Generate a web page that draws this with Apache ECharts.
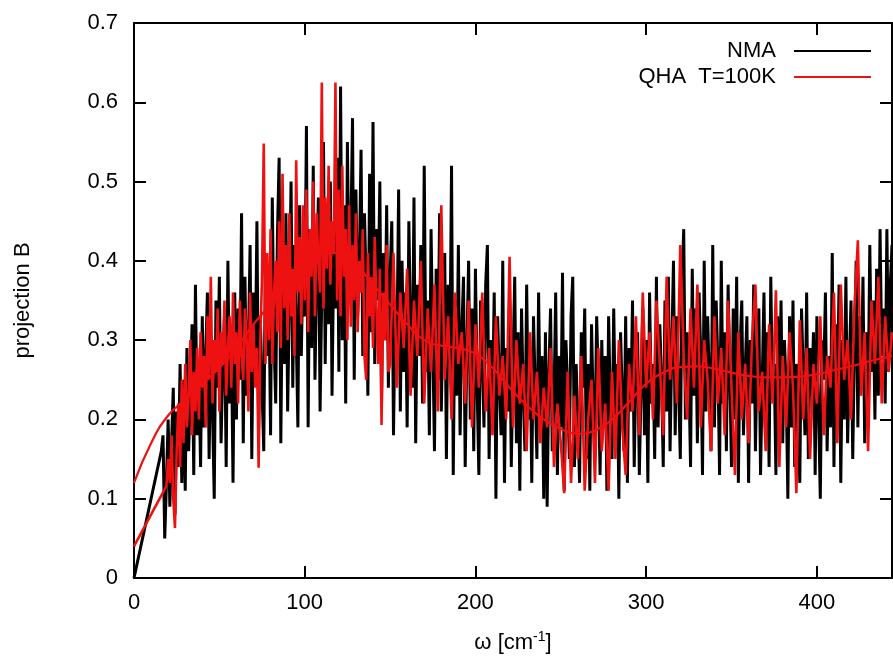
<!DOCTYPE html>
<html>
<head>
<meta charset="utf-8">
<script src="https://cdn.jsdelivr.net/npm/echarts@6/dist/echarts.min.js"></script>
<style>
html,body{margin:0;padding:0;background:#fff;}
#chart{width:893px;height:661px;}
</style>
</head>
<body>
<div id="chart"></div>
<script>
// x steps (cm^-1) for the noisy series
const nmaStep = 1;            // NMA: x = 0, 1, 2, ... 444
const qhaDenseStep = 1;       // QHA part A: x = 0, 1, ... 149
const qhaSparseStart = 150;   // QHA part B: x = 150, 152, ... 444
const qhaSparseStep = 2;

// NMA (black)
const nmaValues = [
  0.00,0.01,0.02,0.03,0.04,0.05,0.06,0.07,0.08,0.09,0.10,0.11,0.12,0.13,0.14,0.15,0.16,0.18,0.05,0.12,
  0.20,0.09,0.17,0.24,0.08,0.21,0.14,0.27,0.12,0.25,0.11,0.29,0.16,0.23,0.32,0.13,0.37,0.18,0.26,0.14,
  0.33,0.19,0.28,0.36,0.15,0.30,0.21,0.10,0.35,0.24,0.38,0.17,0.27,0.33,0.14,0.40,0.22,0.31,0.12,0.36,
  0.20,0.34,0.25,0.46,0.17,0.38,0.23,0.29,0.42,0.15,0.36,0.26,0.45,0.19,0.33,0.24,0.16,0.41,0.28,0.37,
  0.18,0.48,0.30,0.22,0.43,0.53,0.17,0.39,0.27,0.46,0.21,0.35,0.50,0.24,0.42,0.31,0.19,0.47,0.28,0.40,
  0.33,0.57,0.19,0.44,0.29,0.52,0.25,0.38,0.48,0.21,0.36,0.55,0.27,0.45,0.32,0.50,0.23,0.41,0.34,0.53,
  0.26,0.62,0.30,0.47,0.22,0.55,0.36,0.43,0.58,0.25,0.49,0.33,0.40,0.54,0.28,0.46,0.37,0.23,0.51,0.31,
  0.575,0.27,0.44,0.35,0.50,0.22,0.41,0.30,0.47,0.24,0.38,0.45,0.18,0.34,0.29,0.49,0.21,0.40,0.26,0.36,
  0.19,0.45,0.31,0.24,0.48,0.17,0.37,0.28,0.42,0.22,0.52,0.26,0.35,0.18,0.44,0.30,0.16,0.39,0.25,0.46,
  0.21,0.33,0.41,0.15,0.37,0.27,0.52,0.13,0.35,0.23,0.42,0.18,0.31,0.38,0.14,0.29,0.40,0.20,0.34,0.16,
  0.39,0.24,0.13,0.35,0.28,0.19,0.37,0.42,0.15,0.30,0.22,0.36,0.10,0.33,0.25,0.18,0.40,0.12,0.29,0.21,
  0.35,0.14,0.27,0.38,0.17,0.31,0.11,0.34,0.23,0.16,0.37,0.20,0.29,0.12,0.33,0.24,0.15,0.36,0.19,0.28,
  0.10,0.31,0.09,0.26,0.34,0.16,0.22,0.36,0.13,0.28,0.19,0.385,0.11,0.30,0.24,0.15,0.33,0.38,0.14,0.27,
  0.20,0.12,0.31,0.24,0.34,0.15,0.27,0.11,0.32,0.21,0.17,0.33,0.25,0.13,0.30,0.19,0.28,0.11,0.33,0.22,
  0.15,0.34,0.20,0.27,0.10,0.31,0.23,0.16,0.33,0.12,0.29,0.21,0.35,0.14,0.26,0.31,0.13,0.24,0.34,0.18,
  0.30,0.12,0.36,0.22,0.27,0.15,0.38,0.19,0.32,0.25,0.14,0.35,0.21,0.38,0.16,0.29,0.40,0.18,0.33,0.24,
  0.15,0.37,0.44,0.20,0.31,0.26,0.14,0.39,0.23,0.34,0.17,0.36,0.28,0.13,0.40,0.21,0.33,0.25,0.16,0.42,
  0.19,0.35,0.27,0.13,0.40,0.22,0.31,0.16,0.37,0.25,0.14,0.34,0.20,0.38,0.12,0.29,0.35,0.18,0.26,0.33,
  0.12,0.30,0.22,0.37,0.16,0.28,0.34,0.13,0.25,0.36,0.19,0.31,0.14,0.38,0.23,0.27,0.13,0.33,0.20,0.35,
  0.17,0.30,0.24,0.10,0.33,0.19,0.35,0.14,0.27,0.22,0.12,0.34,0.26,0.18,0.36,0.15,0.29,0.23,0.31,0.13,
  0.33,0.21,0.10,0.30,0.25,0.36,0.16,0.28,0.19,0.41,0.14,0.32,0.24,0.37,0.12,0.30,0.20,0.38,0.17,0.27,
  0.35,0.15,0.29,0.40,0.19,0.33,0.24,0.38,0.17,0.31,0.22,0.42,0.26,0.35,0.20,0.39,0.23,0.44,0.28,0.34,
  0.22,0.44,0.26,0.37,0.42
];

// QHA T=100K (red, noisy), part A: x = 0 .. 149
const qhaValuesA = [
  0.040,0.044,0.048,0.052,0.056,0.060,0.064,0.068,0.072,0.076,
  0.080,0.084,0.088,0.092,0.096,0.100,0.104,0.108,0.112,0.116,
  0.15,0.12,0.18,0.10,0.063,0.16,0.22,0.14,0.25,0.17,
  0.27,0.19,0.23,0.30,0.18,0.26,0.21,0.29,0.20,0.31,
  0.24,0.28,0.19,0.33,0.25,0.38,0.22,0.30,0.26,0.34,
  0.21,0.31,0.27,0.35,0.23,0.29,0.33,0.24,0.36,0.27,
  0.31,0.22,0.35,0.28,0.25,0.34,0.30,0.21,0.36,0.26,
  0.32,0.24,0.29,0.139,0.30,0.38,0.548,0.27,0.41,0.30,
  0.44,0.27,0.36,0.40,0.31,0.45,0.29,0.51,0.34,0.42,
  0.30,0.46,0.33,0.39,0.28,0.527,0.36,0.43,0.32,0.47,
  0.35,0.49,0.31,0.44,0.38,0.50,0.33,0.46,0.40,0.36,
  0.625,0.34,0.48,0.39,0.52,0.37,0.45,0.41,0.625,0.35,
  0.49,0.33,0.52,0.38,0.44,0.30,0.47,0.317,0.42,0.35,
  0.46,0.31,0.40,0.36,0.44,0.28,0.25,0.41,0.33,0.38,
  0.29,0.43,0.34,0.27,0.39,0.193,0.36,0.30,0.42,0.26
];

// QHA T=100K (red, noisy), part B: x = 150, 152, ... 444
const qhaValuesB = [
  0.27, 0.41, 0.24, 0.36, 0.29,
  0.39, 0.23, 0.35, 0.28, 0.40, 0.22, 0.34, 0.26, 0.37, 0.21,
  0.47, 0.25, 0.33, 0.20, 0.36, 0.27, 0.31, 0.22, 0.35, 0.19,
  0.32, 0.24, 0.36, 0.21, 0.29, 0.18, 0.33, 0.23, 0.28, 0.20,
  0.405, 0.19, 0.30, 0.22, 0.27, 0.16, 0.31, 0.20, 0.26, 0.17,
  0.24, 0.19, 0.29, 0.14, 0.22, 0.17, 0.107, 0.26, 0.12, 0.23,
  0.15, 0.28, 0.11, 0.20, 0.25, 0.12, 0.29, 0.16, 0.22, 0.11,
  0.26, 0.15, 0.30, 0.19, 0.13, 0.27, 0.21, 0.33, 0.18, 0.36,
  0.24, 0.31, 0.20, 0.35, 0.27, 0.18, 0.38, 0.25, 0.33, 0.22,
  0.42, 0.28, 0.20, 0.34, 0.24, 0.37, 0.19, 0.30, 0.25, 0.16,
  0.33, 0.22, 0.29, 0.18, 0.35, 0.24, 0.13, 0.31, 0.20, 0.27,
  0.17, 0.30, 0.37, 0.21, 0.26, 0.16, 0.32, 0.22, 0.363, 0.14,
  0.28, 0.19, 0.31, 0.24, 0.107, 0.325, 0.20, 0.29, 0.15, 0.27,
  0.22, 0.33, 0.18, 0.28, 0.24, 0.36, 0.17, 0.37, 0.25, 0.30,
  0.20, 0.34, 0.426, 0.23, 0.31, 0.16, 0.35, 0.27, 0.38, 0.22,
  0.33, 0.26, 0.31
];

// QHA smooth curve (red)
const smoothX = [0,10,20,30,40,50,60,70,80,90,100,110,120,130,140,150,160,170,180,190,200,210,220,230,240,250,260,270,280,290,300,310,320,330,340,350,360,370,380,390,400,410,420,430,440,444];
const smoothY = [0.12,0.17,0.205,0.225,0.245,0.265,0.29,0.32,0.345,0.37,0.393,0.408,0.41,0.395,0.37,0.345,0.32,0.30,0.293,0.29,0.283,0.265,0.24,0.218,0.2,0.188,0.182,0.186,0.2,0.222,0.245,0.259,0.266,0.267,0.264,0.259,0.255,0.253,0.253,0.254,0.257,0.262,0.267,0.273,0.278,0.28];

const xMin = 0, xMax = 444, xInterval = 100;
const yMin = 0, yMax = 0.7, yInterval = 0.1;

const FONT = '"Liberation Sans", Arial, Helvetica, sans-serif';
const BLACK = '#000000';
const RED = '#ee1111';

const nmaData = nmaValues.map((v, i) => [i * nmaStep, v]);
const qhaData = qhaValuesA.map((v, i) => [i * qhaDenseStep, v])
  .concat(qhaValuesB.map((v, i) => [qhaSparseStart + i * qhaSparseStep, v]));
const smoothData = smoothX.map((x, i) => [x, smoothY[i]]);

const chart = echarts.init(document.getElementById('chart'), null, {renderer: 'canvas'});

const axisLine = {show: true, onZero: false, lineStyle: {color: '#000', width: 2}};
const axisTick = {show: true, inside: true, length: 12, lineStyle: {color: '#000', width: 2}};

chart.setOption({
  animation: false,
  backgroundColor: '#ffffff',
  grid: {left: 134, right: 1, top: 23, bottom: 83, containLabel: false},
  legend: {
    data: [{name: 'NMA', icon: 'rect'}, {name: 'QHA  T=100K', icon: 'rect'}],
    orient: 'vertical',
    right: 17,
    top: 35,
    align: 'right',
    itemWidth: 77,
    itemHeight: 2,
    itemGap: 4,
    textStyle: {fontFamily: FONT, fontSize: 22, color: '#000', padding: [0, 13, 0, 0]},
    selectedMode: false
  },
  xAxis: [{
    type: 'value', min: xMin, max: xMax, interval: xInterval,
    position: 'bottom',
    axisLine, axisTick,
    splitLine: {show: false},
    axisLabel: {fontFamily: FONT, fontSize: 22, color: '#000', margin: 14, showMaxLabel: false},
    name: '{a|ω [cm}{s|-1}{a|]}',
    nameLocation: 'middle',
    nameGap: 52,
    nameTextStyle: {
      rich: {
        a: {fontFamily: FONT, fontSize: 22, color: '#000'},
        s: {fontFamily: FONT, fontSize: 14, color: '#000', verticalAlign: 'top', padding: [0, 0, 12, 0]}
      }
    }
  }, {
    type: 'value', min: xMin, max: xMax, interval: xInterval,
    position: 'top',
    axisLine, axisTick,
    splitLine: {show: false},
    axisLabel: {show: false}
  }],
  yAxis: [{
    type: 'value', min: yMin, max: yMax, interval: yInterval,
    position: 'left',
    axisLine, axisTick,
    splitLine: {show: false},
    axisLabel: {fontFamily: FONT, fontSize: 22, color: '#000', margin: 16},
    name: 'projection B',
    nameLocation: 'middle',
    nameGap: 100,
    nameTextStyle: {fontFamily: FONT, fontSize: 22, color: '#000'}
  }, {
    type: 'value', min: yMin, max: yMax, interval: yInterval,
    position: 'right',
    axisLine, axisTick,
    splitLine: {show: false},
    axisLabel: {show: false}
  }],
  series: [{
    name: 'NMA',
    type: 'line',
    data: nmaData,
    symbol: 'none',
    lineStyle: {color: BLACK, width: 3},
    itemStyle: {color: BLACK},
    z: 2
  }, {
    name: 'QHA  T=100K',
    type: 'line',
    data: qhaData,
    symbol: 'none',
    lineStyle: {color: RED, width: 2.6},
    itemStyle: {color: RED},
    z: 3
  }, {
    name: 'QHA smooth',
    type: 'line',
    data: smoothData,
    symbol: 'none',
    smooth: true,
    lineStyle: {color: RED, width: 2.2},
    itemStyle: {color: RED},
    z: 4
  }]
});
</script>
</body>
</html>
